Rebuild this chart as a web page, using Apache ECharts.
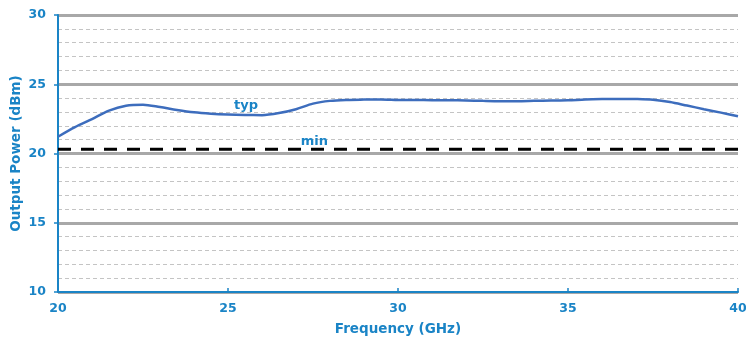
<!DOCTYPE html>
<html>
<head>
<meta charset="utf-8">
<script src="https://cdn.jsdelivr.net/npm/echarts@6/dist/echarts.min.js"></script>
<style>
  html, body { margin: 0; padding: 0; background: #fff; }
  #chart { width: 746px; height: 344px; }
</style>
</head>
<body>
<div id="chart"></div>
<script>
// Typical output power vs frequency (0.5 GHz steps)
const typFreq  = [20, 20.5, 21, 21.5, 22, 22.5, 23, 23.5, 24, 24.5, 25, 25.5, 26, 26.5, 27, 27.5, 28, 28.5, 29, 29.5,
                  30, 30.5, 31, 31.5, 32, 32.5, 33, 33.5, 34, 34.5, 35, 35.5, 36, 36.5, 37, 37.5, 38, 38.5, 39, 39.5, 40];
const typPower = [21.21, 21.9, 22.48, 23.1, 23.45, 23.52, 23.35, 23.14, 22.97, 22.87, 22.81, 22.78, 22.77, 22.92, 23.2, 23.6, 23.8, 23.87, 23.89, 23.9,
                  23.87, 23.86, 23.85, 23.84, 23.83, 23.8, 23.78, 23.78, 23.8, 23.82, 23.84, 23.9, 23.93, 23.94, 23.93, 23.88, 23.72, 23.46, 23.2, 22.95, 22.69];
// Guaranteed minimum
const minFreq  = [20, 40];
const minPower = [20.3, 20.3];
// Curve annotations
const labelText  = ['typ', 'min'];
const labelFreq  = [25.53, 27.54];
const labelPower = [23.46, 20.88];
// Axis ranges
const xTicks = { min: 20, max: 40, step: 5 };
const yTicks = { min: 10, max: 30, step: 5 };

const blue = '#1a84c6';
const font = 'DejaVu Sans';

const chart = echarts.init(document.getElementById('chart'));
chart.setOption({
  animation: false,
  grid: { left: 58, right: 8, top: 15, bottom: 52, containLabel: false, outerBoundsMode: 'none' },
  xAxis: {
    type: 'value', min: xTicks.min, max: xTicks.max, interval: xTicks.step,
    name: 'Frequency (GHz)', nameLocation: 'middle', nameGap: 30, nameMoveOverlap: false,
    nameTextStyle: { color: blue, fontFamily: font, fontWeight: 'bold', fontSize: 13.5 },
    axisLine: { lineStyle: { color: blue, width: 2 } },
    axisTick: { inside: true, length: 4, lineStyle: { color: blue, width: 1.5 } },
    axisLabel: { color: blue, fontFamily: font, fontWeight: 'bold', fontSize: 12.5, margin: 10 },
    splitLine: { show: false }
  },
  yAxis: {
    type: 'value', min: yTicks.min, max: yTicks.max, interval: yTicks.step,
    name: 'Output Power (dBm)', nameLocation: 'middle', nameGap: 35, nameMoveOverlap: false,
    nameTextStyle: { color: blue, fontFamily: font, fontWeight: 'bold', fontSize: 13.5 },
    axisLine: { show: true, lineStyle: { color: blue, width: 2 } },
    axisTick: { show: true, length: 4, lineStyle: { color: blue, width: 1.5 } },
    axisLabel: { color: blue, fontFamily: font, fontWeight: 'bold', fontSize: 12.5, margin: 12 },
    splitLine: { lineStyle: { color: '#a8a8a8', width: 3 } },
    minorTick: { show: false, splitNumber: 5 },
    minorSplitLine: { show: true, lineStyle: { color: '#c4c4c4', width: 1, type: [4, 3] } }
  },
  series: [
    {
      name: 'min', type: 'line', symbol: 'none', z: 3,
      data: minFreq.map((f, i) => [f, minPower[i]]),
      lineStyle: { color: '#000', width: 3, type: [13, 10] }
    },
    {
      name: 'typ', type: 'line', symbol: 'none', smooth: 0.3, z: 4,
      data: typFreq.map((f, i) => [f, typPower[i]]),
      lineStyle: { color: '#3d6dbd', width: 2.5 }
    },
    {
      name: 'labels', type: 'scatter', symbolSize: 0, z: 5, silent: true,
      itemStyle: { opacity: 1 },
      data: labelText.map((t, i) => ({ value: [labelFreq[i], labelPower[i]], name: t })),
      label: {
        show: true, position: 'inside', formatter: p => p.name,
        color: blue, fontFamily: font, fontWeight: 'bold', fontSize: 13
      }
    }
  ]
});
</script>
</body>
</html>
